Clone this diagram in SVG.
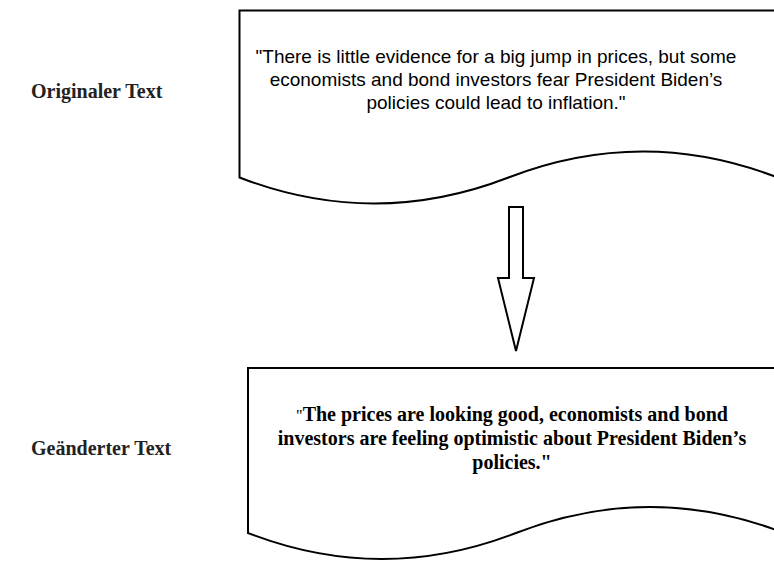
<svg xmlns="http://www.w3.org/2000/svg" width="774" height="561" viewBox="0 0 774 561">
  <style>
    .doc { fill: #ffffff; stroke: #000000; stroke-width: 2; }
    .arrow { fill: #ffffff; stroke: #000000; stroke-width: 2; stroke-linejoin: miter; }
    .label { font-family: "Liberation Serif", "Times New Roman", serif; font-weight: bold; font-size: 20px; fill: #222222; }
    .orig { font-family: "Liberation Sans", Arial, sans-serif; font-size: 19px; fill: #000000; text-anchor: middle; }
    .changed { font-family: "Liberation Serif", "Times New Roman", serif; font-weight: bold; font-size: 20px; fill: #000000; text-anchor: middle; }
  </style>
  <rect width="774" height="561" fill="#ffffff"/>

  <g id="label-original">
    <text class="label" x="31" y="98">Originaler Text</text>
  </g>

  <g id="doc-original">
    <path class="doc" d="M239.5,10.5 L777.5,10.5 L777.5,177.5 Q643,125.5 508.5,177.5 Q374,229.5 239.5,177.5 Z"/>
    <text class="orig" x="496" y="63">"There is little evidence for a big jump in prices, but some</text>
    <text class="orig" x="496" y="86">economists and bond investors fear President Biden’s</text>
    <text class="orig" x="496" y="109">policies could lead to inflation."</text>
  </g>

  <g id="connectors">
    <path class="arrow" d="M509,207 L523,207 L523,278 L534,278 L516,351 L498,278 L509,278 Z"/>
  </g>

  <g id="label-changed">
    <text class="label" x="31" y="455">Geänderter Text</text>
  </g>

  <g id="doc-changed">
    <path class="doc" d="M248,368 L784,368 L784,533 Q650,481 516,533 Q382,585 248,533 Z"/>
    <text class="changed" x="512" y="421"><tspan font-weight="normal" font-size="16">"</tspan>The prices are looking good, economists and bond</text>
    <text class="changed" x="512" y="445">investors are feeling optimistic about President Biden’s</text>
    <text class="changed" x="512" y="469">policies."</text>
  </g>
</svg>
